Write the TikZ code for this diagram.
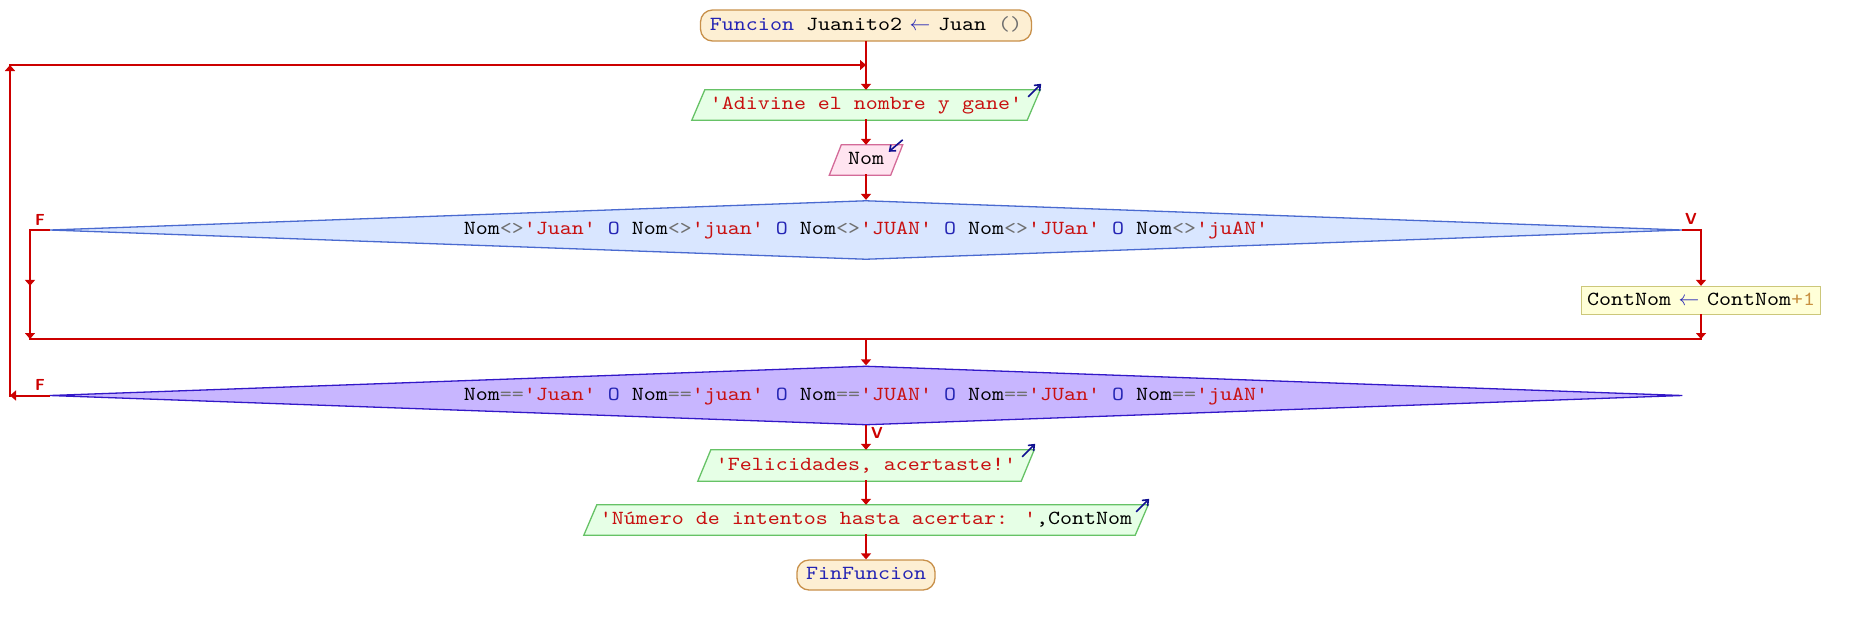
\documentclass[tikz,border=0pt]{standalone}
\usepackage{fontspec}
\newfontfamily\pf[FakeStretch=1.143]{lmmono10-regular.otf}
\usetikzlibrary{shapes.geometric,arrows.meta,calc,backgrounds}
\definecolor{cline}{HTML}{CC0000}
\definecolor{termf}{HTML}{FDEFD3}
\definecolor{termb}{HTML}{C8904A}
\definecolor{outf}{HTML}{E6FFE6}
\definecolor{outb}{HTML}{66C266}
\definecolor{inf}{HTML}{FFE4F0}
\definecolor{inb}{HTML}{D36A98}
\definecolor{dAf}{HTML}{D9E6FF}
\definecolor{dAb}{HTML}{4A6AD0}
\definecolor{dBf}{HTML}{C8B6FF}
\definecolor{dBb}{HTML}{3318C8}
\definecolor{asgf}{HTML}{FFFFD8}
\definecolor{asgb}{HTML}{CCC77A}
\definecolor{kwc}{HTML}{2424B4}
\definecolor{strc}{HTML}{C81010}
\definecolor{opc}{HTML}{707070}
\definecolor{numc}{HTML}{C89040}
\definecolor{iconc}{HTML}{101090}
\newcommand\kw[1]{\textcolor{kwc}{#1}}
\newcommand\st[1]{\textcolor{strc}{#1}}
\newcommand\op[1]{\textcolor{opc}{#1}}
\newcommand\nm[1]{\textcolor{numc}{#1}}
\newcommand\asgarrow{\makebox[36pt]{\textcolor{kwc}{$\leftarrow$}}}
\begin{document}
\begin{tikzpicture}[x=1pt,y=-1pt,
  conn/.style={draw=cline,line width=2pt},
  arr/.style={-{Triangle[length=6pt,width=10pt]}},
  txt/.style={font={\pf\fontsize{20pt}{24pt}\selectfont},inner sep=0pt,text height=13pt,text depth=4pt},
  term/.style={txt,rectangle,rounded corners=12pt,draw=termb,fill=termf,line width=1.3pt},
  io/.style={txt,rectangle},
  dec/.style={txt,diamond,line width=1.3pt,minimum width=1633pt,minimum height=59pt,aspect=27.7},
  asg/.style={txt,rectangle,draw=asgb,fill=asgf,line width=1.3pt},
  lab/.style={font={\sffamily\bfseries\fontsize{16pt}{18pt}\selectfont},text=cline,inner sep=0pt},
  icon/.style={draw=iconc,line width=1.6pt,-{Straight Barb[length=5pt,width=8pt]}},
  outshape/.style={draw=outb,fill=outf,line width=1.3pt},
  inshape/.style={draw=inb,fill=inf,line width=1.3pt}]
\useasboundingbox (0,0) rectangle (1852,625);

\node[term,minimum width=331pt,minimum height=31pt] (start) at (866,25.5)
  {\kw{Funcion} Juanito2\asgarrow Juan \op{()}};
\node[io,minimum width=348pt,minimum height=30pt] (o1) at (866,105) {\st{'Adivine el nombre y gane'}};
\node[io,minimum width=73pt,minimum height=30pt] (in1) at (866,160) {Nom};
\node[dec,draw=dAb,fill=dAf] (d1) at (866,230)
  {Nom\op{<>}\st{'Juan'} \kw{O} Nom\op{<>}\st{'juan'} \kw{O} Nom\op{<>}\st{'JUAN'} \kw{O} Nom\op{<>}\st{'JUan'} \kw{O} Nom\op{<>}\st{'juAN'}};
\node[asg,minimum width=239pt,minimum height=28pt] (asg) at (1701,300.5)
  {ContNom\asgarrow ContNom\nm{+1}};
\node[dec,draw=dBb,fill=dBf] (d2) at (866,395.5)
  {Nom\op{==}\st{'Juan'} \kw{O} Nom\op{==}\st{'juan'} \kw{O} Nom\op{==}\st{'JUAN'} \kw{O} Nom\op{==}\st{'JUan'} \kw{O} Nom\op{==}\st{'juAN'}};
\node[io,minimum width=336pt,minimum height=31pt] (o2) at (866,465.5) {\st{'Felicidades, acertaste!'}};
\node[io,minimum width=564pt,minimum height=30pt] (o3) at (866,520) {\st{'Número de intentos hasta acertar: '},ContNom};
\node[term,minimum width=138pt,minimum height=30pt] (fin) at (866,575) {\kw{FinFuncion}};

\begin{scope}[on background layer]
  \foreach \n in {o1,o2,o3}{
    \draw[outshape] (\n.south west) -- ($(\n.north west)+(13,0)$) -- (\n.north east) -- ($(\n.south east)-(13,0)$) -- cycle;
  }
  \draw[inshape] (in1.south west) -- ($(in1.north west)+(12,0)$) -- (in1.north east) -- ($(in1.south east)-(12,0)$) -- cycle;
\end{scope}

% icons
\foreach \n in {o1,o2,o3}{
  \draw[icon] ($(\n.north east)+(-12,7)$) -- ($(\n.north east)+(1,-6)$);
}
\draw[icon] ($(in1.north east)+(0,-5)$) -- ($(in1.north east)+(-14,7)$);

% helper coordinates
\coordinate (xA) at (10,0);
\coordinate (xB) at (30,0);
\coordinate (yL) at (0,65);
\coordinate (yM) at (0,339);
\coordinate (l1) at (d1.west -| xB);
\coordinate (l1m) at (xB |- asg.north);
\coordinate (l1b) at (xB |- yM);
\coordinate (r1) at (d1.east -| asg.north);
\coordinate (r1b) at (asg.south |- yM);
\coordinate (mC) at (d2.north |- yM);
\coordinate (lp2) at (d2.west -| xA);
\coordinate (lpT) at (xA |- yL);
\coordinate (lpR) at (start.south |- yL);

\begin{scope}[line cap=rect]
\draw[conn,arr] (start.south) -- (o1.north);
\draw[conn,arr] (o1.south) -- (in1.north);
\draw[conn,arr] (in1.south) -- (d1.north);
\draw[conn] (d1.west) -- (l1);
\draw[conn,arr] (l1) -- (l1m);
\draw[conn,arr] (l1m) -- (l1b);
\draw[conn] (d1.east) -- (r1);
\draw[conn,arr] (r1) -- (asg.north);
\draw[conn,arr] (asg.south) -- (r1b);
\draw[conn] (l1b) -- (r1b);
\draw[conn,arr] (mC) -- (d2.north);
\draw[conn,arr] (d2.west) -- (lp2);
\draw[conn,arr] (lp2) -- (lpT);
\draw[conn,arr] (lpT) -- (lpR);
\draw[conn,arr] (d2.south) -- (o2.north);
\draw[conn,arr] (o2.south) -- (o3.north);
\draw[conn,arr] (o3.south) -- (fin.north);
\end{scope}

\node[lab] (fA) at (40,220) {F};
\node[lab] (vA) at (1691,219) {V};
\node[lab] (fB) at (40,385) {F};
\node[lab] (vB) at (877,433) {V};
\end{tikzpicture}
\end{document}
